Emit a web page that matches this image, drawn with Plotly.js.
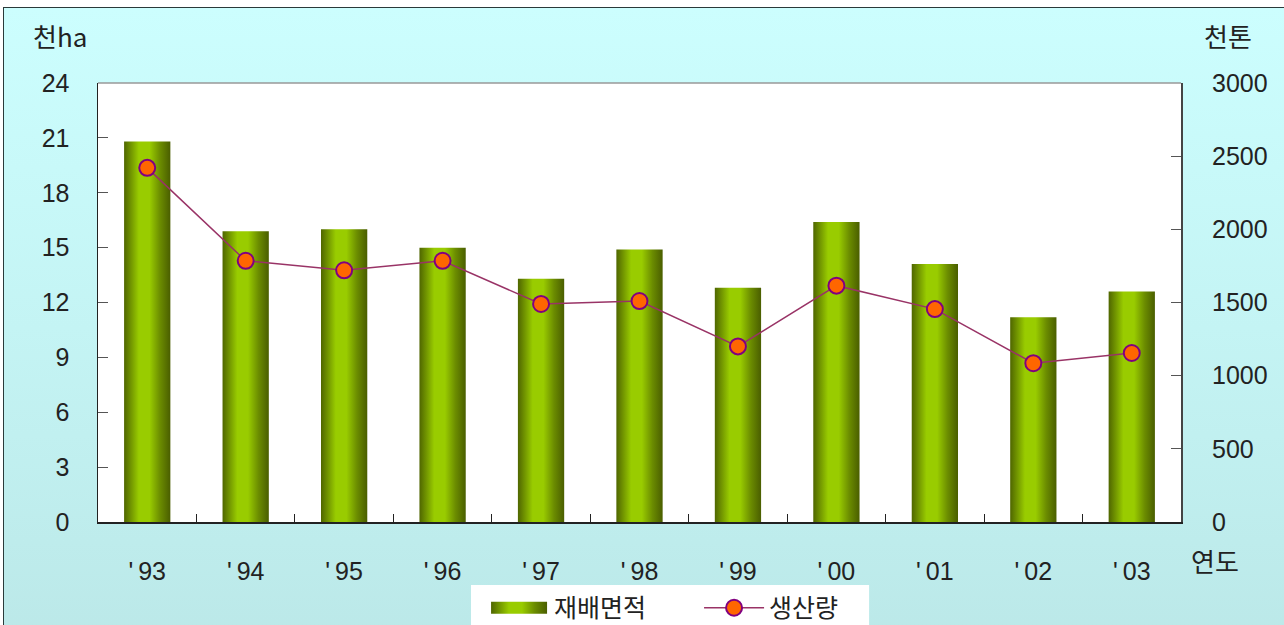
<!DOCTYPE html>
<html>
<head>
<meta charset="utf-8">
<script src="https://cdn.plot.ly/plotly-3.0.1.min.js"></script>
<style>
html,body{margin:0;padding:0;background:#fff;overflow:hidden;}
#frame{position:absolute;left:3px;top:7px;width:1300px;height:640px;border:1px solid #2a3a3a;
background:linear-gradient(to bottom,#ccfefe 0%,#c4f4f4 50%,#bbe8e8 100%);}
#chart{position:absolute;left:0;top:0;width:1284px;height:625px;}
</style>
</head>
<body>
<div id="frame"></div>
<div id="chart"></div>
<script>
const years = ["'\u200993","'\u200994","'\u200995","'\u200996","'\u200997","'\u200998","'\u200999","'\u200900","'\u200901","'\u200902","'\u200903"];
const area = [20.8, 15.9, 16.0, 15.0, 13.3, 14.9, 12.8, 16.4, 14.1, 11.2, 12.6];
const production = [2420, 1785, 1720, 1785, 1490, 1510, 1200, 1615, 1455, 1085, 1155];
const leftTicks = [0,3,6,9,12,15,18,21,24];
const rightTicks = [0,500,1000,1500,2000,2500,3000];

const numFont = "Liberation Sans, Arial, sans-serif";
const krFont = "Noto Sans CJK KR, sans-serif";

const traces = [
  {type:'bar', x:years, y:area, name:'재배면적', width:0.47,
   marker:{color:'#99cc00', line:{width:0}}, yaxis:'y'},
  {type:'scatter', mode:'lines+markers', x:years, y:production, name:'생산량', yaxis:'y2',
   line:{color:'#993366', width:1.5},
   marker:{color:'#ff6600', size:16, line:{color:'#800080', width:2}}}
];

const layout = {
  width:1284, height:625,
  margin:{l:98, r:103, t:83, b:103, autoexpand:false},
  paper_bgcolor:'rgba(0,0,0,0)', plot_bgcolor:'#ffffff',
  showlegend:true,
  legend:{orientation:'h', x:0.555, xanchor:'center', y:-0.1435, yanchor:'top',
    bgcolor:'rgba(0,0,0,0)', font:{family:krFont, size:25, color:'#222'},
    itemwidth:60, traceorder:'normal', entrywidth:140},
  xaxis:{type:'category', tickson:'boundaries', ticks:'inside', ticklen:8, tickcolor:'#222',
    showline:true, linecolor:'#222', linewidth:1.5, showgrid:false, zeroline:false,
    tickfont:{family:numFont, size:25, color:'#222'}, ticklabelstandoff:26,
    range:[-0.5,10.5]},
  yaxis:{range:[0,24], tickvals:leftTicks, ticks:'inside', ticklen:10, tickcolor:'#555',
    showline:true, linecolor:'#222', linewidth:1.5, showgrid:false, zeroline:false,
    tickfont:{family:numFont, size:25, color:'#222'}, ticklabelstandoff:22},
  yaxis2:{range:[0,3000], tickvals:rightTicks, overlaying:'y', side:'right',
    ticks:'inside', ticklen:10, tickcolor:'#555',
    showline:true, linecolor:'#444', linewidth:2, showgrid:false, zeroline:false,
    tickfont:{family:numFont, size:25, color:'#222'}, ticklabelstandoff:24},
  shapes:[
    {type:'line', xref:'paper', yref:'paper', x0:0, x1:1, y0:1, y1:1,
     line:{color:'#999', width:1.5}},
    {type:'rect', xref:'paper', yref:'paper', x0:0.3444, x1:0.712, y0:-0.1435, y1:-0.35,
     fillcolor:'#ffffff', line:{width:0}, layer:'below'}
  ],
  annotations:[
    {text:'천ha', xref:'paper', yref:'paper', x:-0.035, y:1.109, xanchor:'center', yanchor:'middle',
     showarrow:false, font:{family:krFont, size:26, color:'#222'}},
    {text:'천톤', xref:'paper', yref:'paper', x:1.0434, y:1.109, xanchor:'center', yanchor:'middle',
     showarrow:false, font:{family:krFont, size:26, color:'#222'}},
    {text:'연도', xref:'paper', yref:'paper', x:1.031, y:-0.0866, xanchor:'center', yanchor:'middle',
     showarrow:false, font:{family:krFont, size:26, color:'#222'}}
  ]
};

Plotly.newPlot('chart', traces, layout, {staticPlot:true, displayModeBar:false}).then(function(gd){
  const svg = gd.querySelector('svg.main-svg');
  const ns = 'http://www.w3.org/2000/svg';
  let defs = svg.querySelector('defs');
  if(!defs){defs = document.createElementNS(ns,'defs'); svg.insertBefore(defs, svg.firstChild);}
  const g = document.createElementNS(ns,'linearGradient');
  g.setAttribute('id','cyl'); g.setAttribute('x1','0'); g.setAttribute('x2','1');
  g.setAttribute('y1','0'); g.setAttribute('y2','0');
  [[0,'#4f6600'],[0.12,'#6b8c00'],[0.32,'#99cc00'],[0.55,'#99cc00'],[0.78,'#6b8c00'],[1,'#4a5e00']].forEach(function(s){
    const st = document.createElementNS(ns,'stop');
    st.setAttribute('offset', s[0]); st.setAttribute('stop-color', s[1]);
    g.appendChild(st);
  });
  defs.appendChild(g);
  gd.querySelectorAll('.barlayer .point path').forEach(function(p){ p.style.fill='url(#cyl)'; });
  gd.querySelectorAll('.legend .traces').forEach(function(t){
    t.querySelectorAll('.legendpoints path.legendundefined').forEach(function(p){
      p.setAttribute('d','M28,6H-28V-6H28Z');
      p.style.fill='url(#cyl)';
    });
    const pt = t.querySelector('.legendpoints .scatterpts path, .legendpoints path.point');
    const ln = t.querySelector('.legendlines path');
    if(pt && ln){
      const m = /translate\(([-\d.]+)/.exec(pt.getAttribute('transform')||'');
      const cx = m ? parseFloat(m[1]) : 20;
      ln.setAttribute('d','M'+(cx-28)+',0h56');
    }
  });
});
</script>
</body>
</html>
